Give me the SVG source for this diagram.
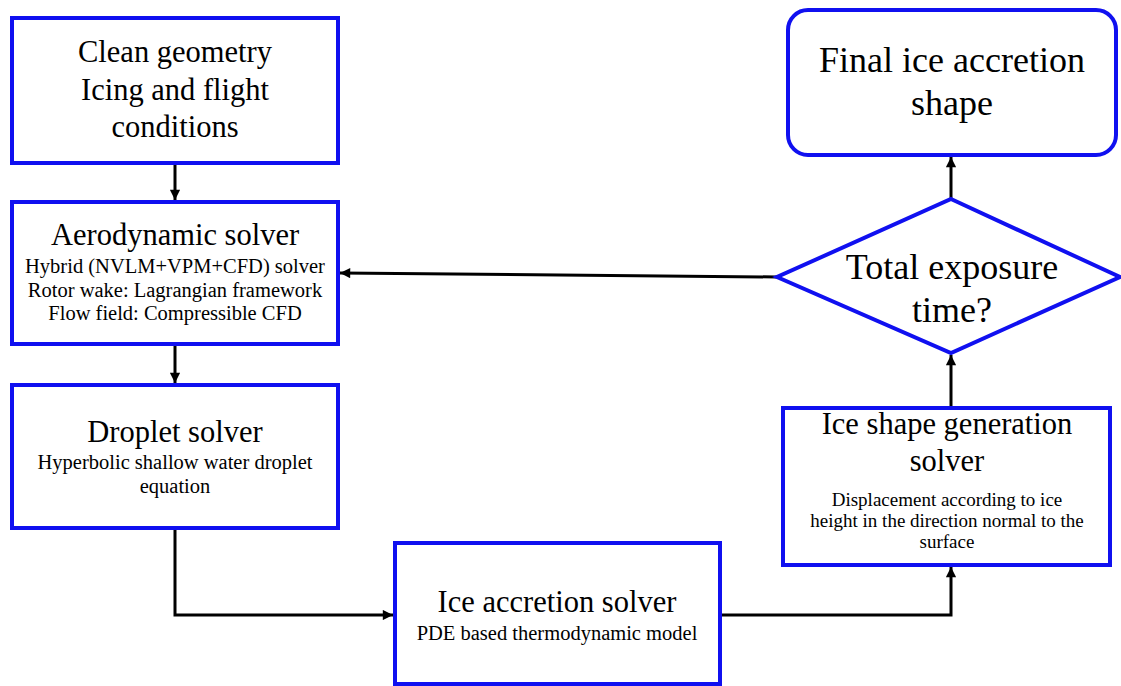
<svg xmlns="http://www.w3.org/2000/svg" width="1121" height="686" viewBox="0 0 1121 686">
<defs>
<marker id="ah" viewBox="0 0 10 10" refX="10" refY="5" markerWidth="4" markerHeight="3.4" orient="auto" markerUnits="strokeWidth">
<path d="M0,0 L10,5 L0,10 z" fill="#000"/>
</marker>
</defs>
<style>
.box{fill:#fff;stroke:#1010F0;stroke-width:4}
.t{font-family:"Liberation Serif","Times New Roman",serif;fill:#000;text-anchor:middle}
.big{font-size:30.5px}
.huge{font-size:36px}
.sub{font-size:20.5px}
.sm{font-size:19px}
.c{fill:none;stroke:#000;stroke-width:3;marker-end:url(#ah)}
</style>
<rect width="1121" height="686" fill="#fff"/>
<g id="connectors">
<path class="c" d="M175,163 V200"/>
<path class="c" d="M175,344 V383"/>
<path class="c" d="M175,528 V615 H393"/>
<path class="c" d="M720,615 H951 V567"/>
<path class="c" d="M951,408 V355"/>
<path class="c" d="M951,199 V157"/>
<path class="c" d="M777,277 L340,273"/>
</g>
<g id="clean">
<rect class="box" x="12" y="18" width="326" height="145"/>
<text class="t big" x="175" y="62">Clean geometry</text>
<text class="t big" x="175" y="100">Icing and flight</text>
<text class="t big" x="175" y="137">conditions</text>
</g>
<g id="aero">
<rect class="box" x="12" y="202" width="326" height="142"/>
<text class="t big" x="175" y="245">Aerodynamic solver</text>
<text class="t sub" x="175" y="273">Hybrid (NVLM+VPM+CFD) solver</text>
<text class="t sub" x="175" y="297">Rotor wake: Lagrangian framework</text>
<text class="t sub" x="175" y="320">Flow field: Compressible CFD</text>
</g>
<g id="droplet">
<rect class="box" x="12" y="385" width="326" height="143"/>
<text class="t big" x="175" y="442">Droplet solver</text>
<text class="t sub" x="175" y="469">Hyperbolic shallow water droplet</text>
<text class="t sub" x="175" y="493">equation</text>
</g>
<g id="iceacc">
<rect class="box" x="395" y="543" width="325" height="141"/>
<text class="t big" x="557" y="612">Ice accretion solver</text>
<text class="t sub" x="557" y="640">PDE based thermodynamic model</text>
</g>
<g id="iceshape">
<rect class="box" x="783" y="408" width="327" height="157"/>
<text class="t big" x="947" y="434">Ice shape generation</text>
<text class="t big" x="947" y="471">solver</text>
<text class="t sm" x="947" y="506">Displacement according to ice</text>
<text class="t sm" x="947" y="527">height in the direction normal to the</text>
<text class="t sm" x="947" y="548">surface</text>
</g>
<g id="decision">
<polygon class="box" points="951,199 1120,277 951,353 777,277"/>
<text class="t huge" x="952" y="279">Total exposure</text>
<text class="t huge" x="952" y="322">time?</text>
</g>
<g id="final">
<rect class="box" x="788" y="10" width="328" height="145" rx="20" ry="20"/>
<text class="t huge" x="952" y="72">Final ice accretion</text>
<text class="t huge" x="952" y="115">shape</text>
</g>
</svg>
